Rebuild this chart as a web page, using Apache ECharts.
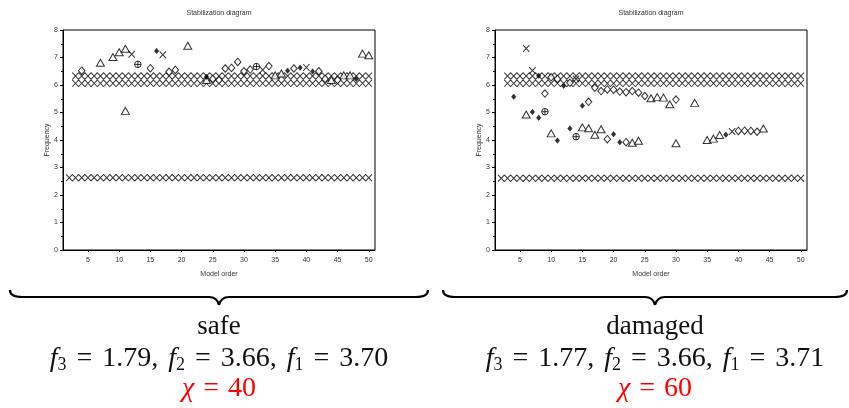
<!DOCTYPE html>
<html>
<head>
<meta charset="utf-8">
<script src="https://cdn.jsdelivr.net/npm/echarts@6/dist/echarts.min.js"></script>
<style>
  html, body { margin: 0; padding: 0; background: #fff; }
  #chart { width: 849px; height: 408px; }
</style>
</head>
<body>
<div id="chart"></div>
<script>
// Model orders covered by the stable-pole rows
const modelOrders = [2,3,4,5,6,7,8,9,10,11,12,13,14,15,16,17,18,19,20,21,22,23,24,25,26,27,28,29,30,31,32,33,34,35,36,37,38,39,40,41,42,43,44,45,46,47,48,49,50];

// Stable pole rows (frequency per model order), safe structure
const safeModeLow  = [2.63,2.63,2.63,2.63,2.63,2.63,2.63,2.63,2.63,2.63,2.63,2.63,2.63,2.63,2.63,2.63,2.63,2.63,2.63,2.63,2.63,2.63,2.63,2.63,2.63,2.63,2.63,2.63,2.63,2.63,2.63,2.63,2.63,2.63,2.63,2.63,2.63,2.63,2.63,2.63,2.63,2.63,2.63,2.63,2.63,2.63,2.63,2.63,2.63];
const safeModeMid  = [null,6.06,6.06,6.06,6.06,6.06,6.06,6.06,6.06,6.06,6.06,6.06,6.06,6.06,6.06,6.06,6.06,6.06,6.06,6.06,6.06,6.06,6.06,6.06,6.06,6.06,6.06,6.06,6.06,6.06,6.06,6.06,6.06,6.06,6.06,6.06,6.06,6.06,6.06,6.06,6.06,6.06,6.06,6.06,6.06,6.06,6.06,6.06,6.06];
const safeModeHigh = [null,6.33,6.33,6.33,6.33,6.33,6.33,6.33,6.33,6.33,6.33,6.33,6.33,6.33,6.33,6.33,6.33,6.33,6.33,6.33,6.33,6.33,6.33,6.33,6.33,6.33,6.33,6.33,6.33,6.33,6.33,6.33,6.33,6.33,6.33,6.33,6.33,6.33,6.33,6.33,6.33,6.33,6.33,6.33,6.33,6.33,6.33,6.33,6.33];

// Stable pole rows, damaged structure
const dmgModeLow  = [2.61,2.61,2.61,2.61,2.61,2.61,2.61,2.61,2.61,2.61,2.61,2.61,2.61,2.61,2.61,2.61,2.61,2.61,2.61,2.61,2.61,2.61,2.61,2.61,2.61,2.61,2.61,2.61,2.61,2.61,2.61,2.61,2.61,2.61,2.61,2.61,2.61,2.61,2.61,2.61,2.61,2.61,2.61,2.61,2.61,2.61,2.61,2.61,2.61];
const dmgModeMid  = [null,6.06,6.06,6.06,6.06,6.06,6.06,6.06,6.06,6.06,6.06,6.06,6.06,6.06,6.06,6.06,6.06,6.06,6.06,6.06,6.06,6.06,6.06,6.06,6.06,6.06,6.06,6.06,6.06,6.06,6.06,6.06,6.06,6.06,6.06,6.06,6.06,6.06,6.06,6.06,6.06,6.06,6.06,6.06,6.06,6.06,6.06,6.06,6.06];
const dmgModeHigh = [null,6.33,6.33,6.33,6.33,6.33,6.33,6.33,6.33,6.33,6.33,6.33,6.33,6.33,6.33,6.33,6.33,6.33,6.33,6.33,6.33,6.33,6.33,6.33,6.33,6.33,6.33,6.33,6.33,6.33,6.33,6.33,6.33,6.33,6.33,6.33,6.33,6.33,6.33,6.33,6.33,6.33,6.33,6.33,6.33,6.33,6.33,6.33,6.33];

// Other poles, [model order, frequency], safe structure
const safeTriangle = [[7,6.81],[9,7.02],[10,7.19],[11,7.32],[11,5.06],[21,7.43],[24,6.18],[35,6.35],[36,6.42],[44,6.18],[46,6.35],[47,6.35],[49,7.14],[50,7.08]];
const safeDiamond = [[4,6.52],[15,6.61],[18,6.48],[19,6.55],[25,6.22],[26,6.18],[27,6.6],[28,6.62],[29,6.84],[30,6.5],[31,6.56],[34,6.69],[38,6.6],[42,6.5],[43,6.22],[45,6.18]];
const safeDot = [[16,7.24],[24,6.3],[37,6.52],[39,6.63],[41,6.49],[48,6.22]];
const safeCross = [[12,7.12],[17,7.1],[33,6.55],[40,6.64]];
const safeCirclePlus = [[13,6.75],[32,6.67]];

// Other poles, damaged structure
const dmgTriangle = [[6,4.93],[10,4.24],[15,4.46],[16,4.43],[17,4.19],[18,4.39],[23,3.9],[24,3.97],[26,5.52],[27,5.56],[28,5.54],[29,5.3],[30,3.88],[33,5.35],[35,4.0],[36,4.05],[37,4.18],[44,4.42]];
const dmgDiamond = [[9,5.69],[10,6.28],[11,6.22],[13,6.08],[16,5.39],[17,5.9],[18,5.78],[19,5.84],[19,4.03],[20,5.83],[21,5.76],[22,5.74],[22,3.92],[23,5.78],[24,5.72],[25,5.6],[30,5.47],[40,4.33],[41,4.34],[42,4.33],[43,4.3]];
const dmgDot = [[4,5.57],[7,5.02],[8,6.34],[8,4.81],[11,3.98],[12,5.97],[13,4.42],[15,5.25],[20,4.21],[21,3.92],[38,4.19]];
const dmgCross = [[6,7.33],[7,6.53],[14,6.22],[39,4.31]];
const dmgCirclePlus = [[9,5.03],[14,4.12]];

// Axis ticks
const xTicks = [5,10,15,20,25,30,35,40,45,50];

// Text beneath each diagram
const panelCaptions = ['safe', 'damaged'];
const panelFreqs = [['1.79','3.66','3.70'], ['1.77','3.66','3.71']];
const panelChi = ['40', '60'];

const CROSS = 'path://M0,0L10,10M10,0L0,10';
const CIRCLE_PLUS = 'path://M5,0A5,5 0 1,1 5,10A5,5 0 1,1 5,0ZM5,0L5,10M0,5L10,5';
const SANS = '"Liberation Sans", Arial, Helvetica, sans-serif';
const SERIF = '"Liberation Serif", "Times New Roman", serif';

function rowPoints(row) {
  const out = [];
  modelOrders.forEach((o, i) => { if (row[i] != null) out.push([o, row[i]]); });
  return out;
}

function panelSeries(idx, rows, tri, dia, dot, cross, cplus) {
  const base = { type: 'scatter', xAxisIndex: idx, yAxisIndex: idx, silent: true, animation: false };
  const list = [];
  rows.forEach(r => list.push(Object.assign({}, base, {
    data: rowPoints(r), symbol: CROSS, symbolSize: [6.4, 6.8], symbolKeepAspect: false,
    itemStyle: { color: 'none', borderColor: '#000', borderWidth: 1 }, z: 2
  })));
  list.push(Object.assign({}, base, {
    data: tri, symbol: 'triangle', symbolSize: [8, 7],
    itemStyle: { color: '#fff', borderColor: '#000', borderWidth: 1 }, z: 3
  }));
  list.push(Object.assign({}, base, {
    data: dia, symbol: 'diamond', symbolSize: [6.5, 7.5],
    itemStyle: { color: '#fff', borderColor: '#000', borderWidth: 1 }, z: 3
  }));
  list.push(Object.assign({}, base, {
    data: cross, symbol: CROSS, symbolSize: [6.4, 6.8], symbolKeepAspect: false,
    itemStyle: { color: 'none', borderColor: '#000', borderWidth: 1 }, z: 3
  }));
  list.push(Object.assign({}, base, {
    data: cplus, symbol: CIRCLE_PLUS, symbolSize: 6.5,
    itemStyle: { color: '#fff', borderColor: '#000', borderWidth: 1 }, z: 3
  }));
  list.push(Object.assign({}, base, {
    data: dot, symbol: 'diamond', symbolSize: [4.5, 5.5],
    itemStyle: { color: '#000', borderColor: '#000', borderWidth: 0.5 }, z: 4
  }));
  return list;
}

function xAxisDef(idx) {
  return {
    gridIndex: idx, type: 'value', min: 1, max: 51,
    name: 'Model order', nameLocation: 'middle', nameGap: 21,
    nameTextStyle: { fontSize: 7, color: '#333', fontFamily: SANS },
    axisLine: { show: true, lineStyle: { color: '#000', width: 1 } },
    axisTick: { show: true, inside: false, length: 2, customValues: xTicks, lineStyle: { color: '#000' } },
    axisLabel: { fontSize: 7, color: '#333', fontFamily: SANS, margin: 7, customValues: xTicks },
    splitLine: { show: false }
  };
}

function yAxisDef(idx) {
  return {
    gridIndex: idx, type: 'value', min: 0, max: 8, interval: 1,
    name: 'Frequency', nameLocation: 'middle', nameGap: 10,
    nameTextStyle: { fontSize: 7, color: '#333', fontFamily: SANS },
    axisLine: { show: true, lineStyle: { color: '#000', width: 1 } },
    axisTick: { show: true, inside: false, length: 3, lineStyle: { color: '#000' } },
    minorTick: { show: true, splitNumber: 2, length: 2, lineStyle: { color: '#000' } },
    axisLabel: { fontSize: 7, color: '#333', fontFamily: SANS, margin: 5 },
    splitLine: { show: false }, minorSplitLine: { show: false }
  };
}

// Horizontal curly brace built from quadratic curves and straight runs
function brace(x0, x1, xm, yTop, yBase, yTip) {
  const st = { stroke: '#000', lineWidth: 2.2, fill: 'none' };
  const curve = (a, b, c, d, cx, cy) => ({ type: 'bezierCurve', silent: true,
    shape: { x1: a, y1: b, x2: c, y2: d, cpx1: cx, cpy1: cy }, style: st });
  const seg = (a, b, c, d) => ({ type: 'line', silent: true,
    shape: { x1: a, y1: b, x2: c, y2: d }, style: st });
  return [
    curve(x0, yTop, x0 + 12, yBase, x0, yBase),
    seg(x0 + 12, yBase, xm - 10, yBase),
    curve(xm - 10, yBase, xm, yTip, xm - 2, yBase),
    curve(xm, yTip, xm + 10, yBase, xm + 2, yBase),
    seg(xm + 10, yBase, x1 - 12, yBase),
    curve(x1 - 12, yBase, x1, yTop, x1, yBase)
  ];
}

function formula(vals) {
  return `{i|f}{s|3}{e|=}{n|${vals[0]}}{c|,}{i|f}{s|2}{e|=}{n|${vals[1]}}{c|,}{i|f}{s|1}{e|=}{n|${vals[2]}}`;
}

const formulaRich = {
  i: { fontFamily: SERIF, fontStyle: 'italic', fontSize: 28, lineHeight: 30, fill: '#111' },
  n: { fontFamily: SERIF, fontSize: 28, lineHeight: 30, fill: '#111' },
  c: { fontFamily: SERIF, fontSize: 28, lineHeight: 30, fill: '#111', padding: [0, 10, 0, 0] },
  e: { fontFamily: SERIF, fontSize: 28, lineHeight: 30, fill: '#111', padding: [0, 10, 0, 10] },
  s: { fontFamily: SERIF, fontSize: 18, lineHeight: 16, verticalAlign: 'bottom', fill: '#111' }
};

function captionBlock(cx, k) {
  return [
    { type: 'text', silent: true, x: cx, y: 327,
      style: { text: panelCaptions[k], align: 'center', verticalAlign: 'middle',
               font: `27px ${SERIF}`, fill: '#111' } },
    { type: 'text', silent: true, x: cx, y: 359,
      style: { text: formula(panelFreqs[k]), align: 'center', verticalAlign: 'middle', rich: formulaRich } },
    { type: 'text', silent: true, x: cx, y: 389,
      style: { text: `{c|χ}{e|=}{n|${panelChi[k]}}`, align: 'center', verticalAlign: 'middle',
               rich: {
                 c: { fontFamily: SERIF, fontStyle: 'italic', fontSize: 28, fill: '#f00' },
                 e: { fontFamily: SERIF, fontSize: 28, fill: '#f00', padding: [0, 9, 0, 9] },
                 n: { fontFamily: SERIF, fontSize: 28, fill: '#f00' }
               } } }
  ];
}

const chart = echarts.init(document.getElementById('chart'), null, { renderer: 'canvas' });

chart.setOption({
  backgroundColor: '#fff',
  animation: false,
  title: [
    { text: 'Stabilization diagram', left: 214, top: 5, textAlign: 'center',
      textStyle: { fontSize: 7, fontWeight: 'normal', color: '#333', fontFamily: SANS } },
    { text: 'Stabilization diagram', left: 646, top: 5, textAlign: 'center',
      textStyle: { fontSize: 7, fontWeight: 'normal', color: '#333', fontFamily: SANS } }
  ],
  grid: [
    { left: 63, top: 30, width: 312, height: 220, show: true, borderColor: '#000', borderWidth: 1, backgroundColor: 'transparent' },
    { left: 495, top: 30, width: 312, height: 220, show: true, borderColor: '#000', borderWidth: 1, backgroundColor: 'transparent' }
  ],
  xAxis: [xAxisDef(0), xAxisDef(1)],
  yAxis: [yAxisDef(0), yAxisDef(1)],
  series: [].concat(
    panelSeries(0, [safeModeLow, safeModeMid, safeModeHigh], safeTriangle, safeDiamond, safeDot, safeCross, safeCirclePlus),
    panelSeries(1, [dmgModeLow, dmgModeMid, dmgModeHigh], dmgTriangle, dmgDiamond, dmgDot, dmgCross, dmgCirclePlus)
  ),
  graphic: [].concat(
    brace(10, 428, 219, 290, 297, 305),
    brace(443, 847, 655, 290, 297, 305),
    captionBlock(219, 0),
    captionBlock(655, 1)
  )
});
</script>
</body>
</html>
